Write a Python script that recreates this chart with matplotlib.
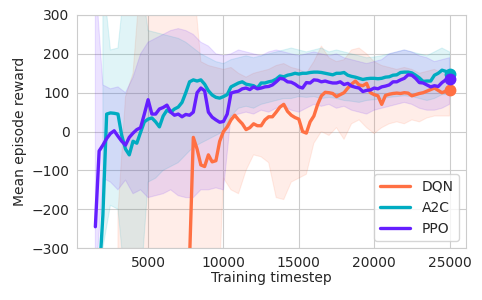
import numpy as np
import matplotlib
matplotlib.use("Agg")
import matplotlib.pyplot as plt
import seaborn as sns

# ---- data ----
steps = np.arange(1500, 25001, 250)

dqn_mean = [np.nan, np.nan, np.nan, np.nan, np.nan,
            -560, -540, -520, -500, -480, -470, -460, -450, -440, -430, -420,
            -410, -400, -390, -390, -380, -380, -370, -360, -350, -330,
            -15, -45, -86, -90, -60, -78, -75, -25, 0, 12,
            30, 42, 30, 20, 5, 10, 20, 15, 15, 30,
            38, 38, 50, 63, 70, 52, 42, 36, 32, 0,
            -4, 25, 40, 70, 92, 101, 100, 98, 90, 95,
            100, 112, 122, 130, 120, 118, 124, 100, 95, 92,
            70, 93, 96, 98, 99, 98, 100, 99, 92, 95,
            98, 100, 104, 108, 112, 106, 100, 104, 106]

a2c_mean = [np.nan, -380, -215, 45, 48, 47, 45, -10, -45, -60,
            -25, -30, -2, 25, 32, 35, 25, 12, 40, 55,
            50, 58, 63, 75, 100, 128, 133, 130, 133, 122,
            105, 94, 88, 86, 90, 95, 115, 120, 125, 128,
            122, 120, 118, 112, 125, 125, 128, 130, 135, 143,
            141, 145, 147, 150, 148, 150, 150, 152, 153, 153,
            152, 150, 148, 146, 150, 150, 152, 145, 142, 140,
            137, 134, 136, 137, 137, 136, 137, 140, 141, 145,
            146, 152, 153, 153, 151, 145, 138, 129, 130, 130,
            145, 150, 158, 155, 148]

ppo_mean = [-245, -50, -35, -18, -5, 2, -12, -25, -35, -15,
            -4, 5, 10, 45, 82, 45, 45, 58, 62, 68,
            50, 42, 45, 38, 44, 42, 50, 100, 112, 105,
            50, 37, 30, 24, 26, 45, 99, 102, 104, 110,
            112, 108, 115, 110, 112, 115, 116, 120, 128, 137,
            135, 128, 127, 122, 115, 112, 126, 125, 133, 132,
            128, 130, 127, 125, 125, 128, 121, 124, 117, 114,
            112, 103, 106, 107, 112, 110, 115, 117, 120, 128,
            128, 133, 137, 146, 145, 137, 126, 125, 120, 115,
            118, 116, 126, 133, 135]

# shaded spread (coarser grid)
band_steps = np.arange(1500, 25001, 500)

dqn_lo = [np.nan, np.nan, np.nan, -600, -600, -600, -600, -600, -600, -600,
          -600, -600, -600, -600, -600, -600, -600, -120, -150, -160,
          -100, -60, -65, -80, -170, -175, -130, -120, -110, -30,
          0, -10, 10, -20, 20, 30, 10, -5, 10, 20,
          25, 20, 30, 25, 35, 40, 40, 40]
dqn_hi = [np.nan, np.nan, np.nan, -210, 90, 150, 400, 400, 400, 400,
          400, 400, 400, 400, 180, 170, 165, 160, 165, 150,
          140, 150, 155, 160, 170, 175, 165, 160, 150, 180,
          220, 190, 180, 185, 210, 215, 200, 180, 170, 165,
          160, 165, 160, 150, 155, 160, 150, 140]

a2c_lo = [np.nan, -300, -190, -200, -400, -400, -400, -130, -120, -100,
          -90, -80, -60, -40, -30, -20, -10, 0, 40, 60,
          65, 60, 70, 75, 80, 85, 85, 90, 88, 90,
          85, 88, 85, 80, 78, 75, 80, 82, 85, 88,
          90, 92, 90, 85, 80, 85, 95, 95]
a2c_hi = [np.nan, 400, 210, 215, 400, 400, 400, 260, 255, 250,
          245, 240, 230, 215, 200, 190, 180, 175, 185, 190,
          195, 190, 195, 200, 205, 210, 215, 210, 205, 210,
          215, 205, 210, 205, 200, 195, 190, 192, 195, 200,
          205, 210, 205, 200, 195, 205, 215, 205]

ppo_lo = [-400, -120, -130, -150, -125, -160, -150, -170, -165, -160,
          -150, -165, -170, -170, -150, -150, -145, -150, 40, 45,
          50, 45, 55, 50, 60, 65, 55, 50, 60, 70,
          65, 70, 60, 65, 55, 50, 45, 55, 60, 65,
          70, 75, 70, 60, 55, 55, 60, 70]
ppo_hi = [400, 120, 110, 115, 100, 140, 200, 230, 240, 250,
          260, 265, 260, 250, 230, 220, 200, 195, 200, 210,
          205, 200, 195, 205, 210, 205, 200, 195, 200, 205,
          200, 195, 200, 190, 185, 180, 175, 180, 185, 200,
          205, 210, 205, 195, 190, 180, 185, 190]

names = ["DQN", "A2C", "PPO"]
colors = ["#FF7043", "#00ACC1", "#651FFF"]

sns.set_style("whitegrid")
plt.rcParams["font.family"] = ["DejaVu Sans"]

fig = plt.figure(figsize=(4.82, 3.0), dpi=100)
ax = fig.add_axes([0.160, 0.173, 0.807, 0.777])

means = [dqn_mean, a2c_mean, ppo_mean]
los = [dqn_lo, a2c_lo, ppo_lo]
his = [dqn_hi, a2c_hi, ppo_hi]

for m, lo, hi, c in zip(means, los, his, colors):
    ax.fill_between(band_steps, lo, hi, color=c, alpha=0.12, linewidth=0.8)

for m, c, n in zip(means, colors, names):
    ax.plot(steps, m, color=c, lw=2.4, label=n)
    ax.plot(steps[-1], m[-1], "o", color=c, ms=7.5)

ax.set_xlim(290, 26100)
ax.set_ylim(-300, 300)
ax.set_xticks([5000, 10000, 15000, 20000, 25000])
ax.set_yticks([-300, -200, -100, 0, 100, 200, 300])
ax.tick_params(labelsize=10, pad=2)
ax.set_xlabel("Training timestep", fontsize=10, labelpad=1)
ax.set_ylabel("Mean episode reward", fontsize=10, labelpad=3)
ax.legend(loc="lower right", fontsize=10, handlelength=2.2)

fig.savefig("out.png", dpi=100)
